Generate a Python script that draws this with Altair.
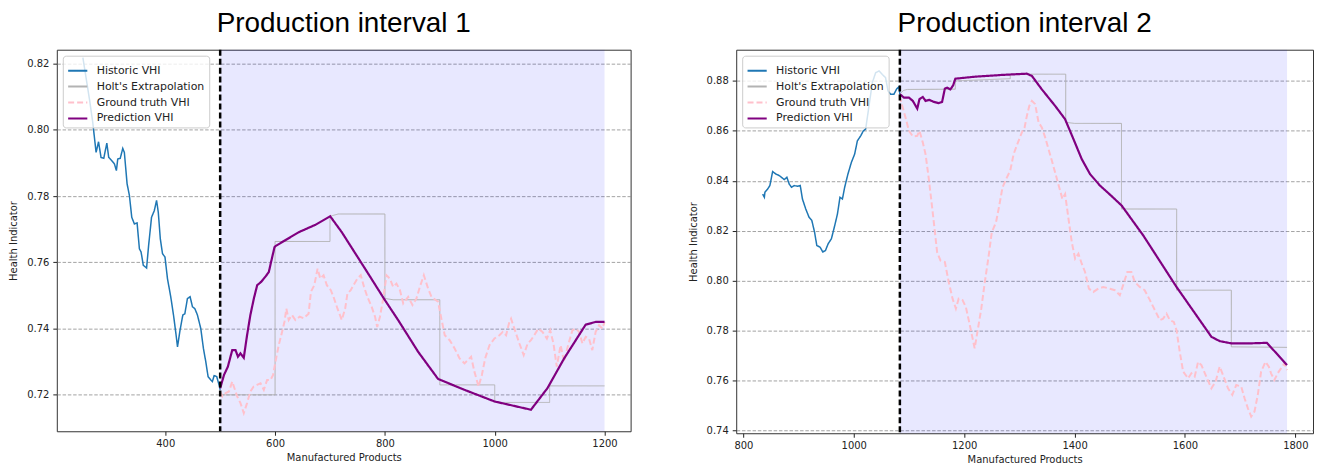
import altair as alt
import pandas as pd

SERIES = ["Historic VHI", "Holt's Extrapolation", "Ground truth VHI", "Prediction VHI"]
COLORS = ["#1f77b4", "#b3b3b3", "#ffc0cb", "#800080"]
DASHES = [[1, 0], [1, 0], [6, 3], [1, 0]]
WIDTHS = [1.5, 1.0, 2.0, 2.2]
TITLES = ["Production interval 1", "Production interval 2"]

# ---------------- Production interval 1 ----------------
L_hist_x = [250, 262, 268, 274, 278.5, 283, 288, 293.6, 297, 302.6, 307.5, 311, 313.5, 318, 322.6,
            325.5, 330.5, 334.7, 339, 343.8, 348.7, 352.9, 356, 360, 366, 369.7, 375, 380, 384.2, 387.3,
            391, 395, 399.5, 404, 410, 415, 419.4, 422.3, 427, 432, 435.7, 440.4, 445.3, 449.5, 453.9,
            458.6, 464.7, 469.5, 473.8, 478, 482.9, 485.8, 489, 493.7, 498, 500]
L_hist_y = [0.8218, 0.8092, 0.8022, 0.7932, 0.7964, 0.7917, 0.7914, 0.7960, 0.7917, 0.7907, 0.7897,
            0.7877, 0.7912, 0.7914, 0.7944, 0.7932, 0.7837, 0.7802, 0.7736, 0.7716, 0.7719, 0.7641,
            0.7631, 0.7591, 0.7583, 0.7651, 0.7736, 0.7756, 0.7787, 0.7751, 0.7671, 0.7626, 0.7616,
            0.7551, 0.7496, 0.7441, 0.7385, 0.7345, 0.7396, 0.7441, 0.7445, 0.7491, 0.7496, 0.7466,
            0.7460, 0.7441, 0.7400, 0.7340, 0.7300, 0.7255, 0.7245, 0.7240, 0.7258, 0.7255, 0.7230, 0.7215]

L_holt_x = [500, 600, 600, 700, 700, 715, 800, 800, 815, 900, 900, 1000, 1000, 1100, 1100, 1200]
L_holt_y = [0.7200, 0.7200, 0.7663, 0.7663, 0.7739, 0.7746, 0.7746, 0.7491, 0.7487, 0.7487,
            0.7230, 0.7230, 0.7177, 0.7177, 0.7227, 0.7227]

L_gt_x = [500, 504, 510, 516, 522, 526, 531, 537, 543, 549, 555, 561, 567, 573.5, 579.5, 585.5, 591.6,
          596.4, 600.7, 606.7, 612.7, 617, 620.6, 624.8, 630.8, 637, 644.8, 652, 661, 665.3, 671.4,
          677.4, 682.3, 688.3, 694.3, 701.5, 706.4, 713.7, 721.5, 727.6, 731.8, 737.8, 742.7, 750, 756,
          762, 768, 775.8, 782, 786, 791, 797, 803, 809, 815, 821, 827.4, 833.4, 842.4, 850.2, 857.5,
          863.7, 870.9, 878.7, 884.8, 896.8, 902.8, 909, 918, 927, 936, 945, 951, 957, 963, 970.6,
          976.6, 982.6, 990.5, 999.6, 1008.6, 1014.7, 1020.7, 1026.7, 1029.7, 1038.8, 1045, 1052.8,
          1060, 1066, 1072, 1079.3, 1087, 1095, 1101, 1107, 1113, 1120, 1126.5, 1133.6, 1141.6,
          1147.6, 1153.6, 1159.7, 1165.7, 1171.7, 1177.7, 1183.8, 1190, 1196, 1200]
L_gt_y = [0.7210, 0.7195, 0.7205, 0.7210, 0.7240, 0.7220, 0.7195, 0.7175, 0.7145, 0.7175,
          0.7210, 0.7225, 0.7230, 0.7235, 0.7215, 0.7245, 0.7245, 0.7260, 0.7300, 0.7350,
          0.7390, 0.7420, 0.7460, 0.7426, 0.7441, 0.7426, 0.7436, 0.7431, 0.7445, 0.7511,
          0.7531, 0.7581, 0.7551, 0.7561, 0.7531, 0.7516, 0.7496, 0.7460, 0.7426, 0.7460,
          0.7506, 0.7516, 0.7531, 0.7551, 0.7561, 0.7526, 0.7496, 0.7466, 0.7436, 0.7405,
          0.7436, 0.7491, 0.7561, 0.7551, 0.7526, 0.7536, 0.7516, 0.7476, 0.7496, 0.7471,
          0.7491, 0.7526, 0.7561, 0.7521, 0.7496, 0.7481, 0.7430, 0.7380, 0.7365, 0.7340,
          0.7310, 0.7295, 0.7305, 0.7315, 0.7270, 0.7225, 0.7260, 0.7310, 0.7350, 0.7370,
          0.7380, 0.7390, 0.7380, 0.7420, 0.7430, 0.7385, 0.7355, 0.7320, 0.7355, 0.7365,
          0.7380, 0.7400, 0.7390, 0.7370, 0.7395, 0.7355, 0.7285, 0.7350, 0.7300, 0.7350,
          0.7395, 0.7400, 0.7390, 0.7355, 0.7375, 0.7370, 0.7335, 0.7390, 0.7410, 0.7400, 0.7420]

L_pred_x = [500, 507, 514, 522, 528, 532.4, 537, 543, 549, 555, 561.4, 567.4, 574.6, 579.5, 584.4,
            588.6, 592.7, 599, 600.7, 643, 673, 700.4, 721.5, 763.8, 800, 824, 860.5, 896.8, 945,
            999.6, 1066, 1096, 1126.5, 1165.7, 1183.9, 1200]
L_pred_y = [0.7220, 0.7260, 0.7285, 0.7335, 0.7335, 0.7315, 0.7325, 0.7312, 0.7380, 0.7441,
            0.7491, 0.7531, 0.7541, 0.7551, 0.7561, 0.7571, 0.7601, 0.7646, 0.7649, 0.7691,
            0.7713, 0.7739, 0.7691, 0.7581, 0.7486, 0.7426, 0.7330, 0.7248, 0.7215, 0.7180,
            0.7155, 0.7220, 0.7310, 0.7412, 0.7420, 0.7420]

L_shade = [500, 1200]
L_split = [500]
L_xdomain = [202.5, 1247.5]
L_ydomain = [0.709, 0.8242]
L_xticks = [400, 600, 800, 1000, 1200]
L_yticks = [0.72, 0.74, 0.76, 0.78, 0.80, 0.82]

# ---------------- Production interval 2 ----------------
R_hist_x = [834.9, 838, 839, 844, 848, 853, 858.9, 865, 869, 874, 878.8, 883, 887.3, 892, 898, 903,
            907, 913, 919, 924, 929, 933, 939, 943.9, 948.7, 953.6, 959.5, 965.5, 970.4, 975, 979.4,
            983.5, 989.4, 995.7, 1001.6, 1006.5, 1012.5, 1017.3, 1021.5, 1027.6, 1033.6, 1039.6,
            1045.7, 1051.7, 1057.6, 1062, 1066.7, 1072.8, 1077.5, 1081.8, 1083.5]
R_hist_y = [0.8347, 0.8334, 0.8354, 0.8367, 0.8381, 0.8437, 0.8427, 0.8421, 0.8414, 0.8405,
            0.8414, 0.8387, 0.8374, 0.8381, 0.8378, 0.8381, 0.8327, 0.8287, 0.8254, 0.8241,
            0.8194, 0.8141, 0.8134, 0.8115, 0.8121, 0.8148, 0.8168, 0.8221, 0.8267, 0.8334,
            0.8327, 0.8374, 0.8427, 0.8474, 0.8507, 0.8560, 0.8580, 0.8600, 0.8607, 0.8700,
            0.8793, 0.8833, 0.8840, 0.8826, 0.8813, 0.8760, 0.8747, 0.8747, 0.8767, 0.8777, 0.8747]

R_holt_x = [1083.5, 1090, 1097, 1184, 1184, 1283.5, 1283.5, 1384, 1384, 1400, 1485, 1485, 1585,
            1585, 1684, 1684, 1785]
R_holt_y = [0.8747, 0.8762, 0.8766, 0.8767, 0.8800, 0.8809, 0.8827, 0.8827, 0.8634, 0.8630,
            0.8630, 0.8287, 0.8287, 0.7962, 0.7962, 0.7735, 0.7733]

R_gt_x = [1083, 1087.8, 1093.8, 1100, 1107, 1115, 1119, 1125, 1130, 1136, 1143, 1151, 1157, 1165,
          1172, 1179, 1185, 1190, 1197, 1203, 1209, 1214, 1219, 1225, 1231, 1237, 1244.5, 1250,
          1257.7, 1263.6, 1269.5, 1277.5, 1283.5, 1289.6, 1297.5, 1304.6, 1309.5, 1313.6, 1318,
          1322.7, 1328.6, 1334.8, 1340.7, 1346.7, 1352.8, 1358.8, 1364.7, 1373.8, 1378, 1382.9,
          1389, 1395, 1401, 1407, 1413, 1419, 1426, 1434, 1443, 1452, 1464, 1473, 1482, 1488,
          1495.6, 1503, 1509, 1518, 1527, 1536.5, 1545.5, 1554.5, 1560.5, 1566.6, 1572.6, 1579.8,
          1584.7, 1590.6, 1596.7, 1605.7, 1611.7, 1617.7, 1623.8, 1629.8, 1637.5, 1647.9, 1655.6,
          1662.9, 1669, 1678, 1685.8, 1693, 1702, 1708, 1714, 1720, 1726, 1732, 1738, 1746, 1752,
          1756, 1762, 1768, 1774, 1780, 1785]
R_gt_y = [0.8740, 0.8700, 0.8653, 0.8600, 0.8578, 0.8580, 0.8600, 0.8554, 0.8507, 0.8407,
          0.8274, 0.8114, 0.8081, 0.8075, 0.7995, 0.7928, 0.7888, 0.7928, 0.7922, 0.7895,
          0.7835, 0.7782, 0.7729, 0.7808, 0.7888, 0.7988, 0.8101, 0.8194, 0.8234, 0.8301,
          0.8374, 0.8414, 0.8441, 0.8507, 0.8554, 0.8594, 0.8614, 0.8660, 0.8700, 0.8720,
          0.8707, 0.8634, 0.8614, 0.8574, 0.8527, 0.8481, 0.8434, 0.8361, 0.8327, 0.8347,
          0.8248, 0.8154, 0.8088, 0.8108, 0.8068, 0.8035, 0.7968, 0.7955, 0.7968, 0.7975,
          0.7968, 0.7962, 0.7942, 0.7982, 0.8035, 0.8035, 0.7995, 0.7975, 0.7962, 0.7922,
          0.7882, 0.7842, 0.7848, 0.7868, 0.7842, 0.7835, 0.7802, 0.7715, 0.7636, 0.7609,
          0.7629, 0.7616, 0.7675, 0.7662, 0.7622, 0.7569, 0.7596, 0.7656, 0.7622, 0.7569,
          0.7543, 0.7582, 0.7576, 0.7529, 0.7489, 0.7456, 0.7476, 0.7543, 0.7636, 0.7675,
          0.7656, 0.7629, 0.7602, 0.7629, 0.7649, 0.7669, 0.7642]

R_pred_x = [1083.5, 1091, 1100, 1107, 1115, 1119, 1125, 1130, 1137, 1145, 1154, 1160, 1165, 1169,
            1175, 1180, 1184, 1220, 1268.5, 1313.6, 1322.7, 1340.8, 1364.8, 1382.8, 1398, 1413,
            1428, 1446, 1466, 1485.3, 1524.5, 1584.7, 1648, 1663, 1684, 1717, 1748.5, 1785]
R_pred_y = [0.8747, 0.8733, 0.8733, 0.8720, 0.8689, 0.8727, 0.8736, 0.8720, 0.8724, 0.8716,
            0.8711, 0.8716, 0.8769, 0.8773, 0.8766, 0.8782, 0.8809, 0.8817, 0.8824, 0.8829,
            0.8820, 0.8766, 0.8700, 0.8647, 0.8567, 0.8487, 0.8427, 0.8381, 0.8341, 0.8301,
            0.8181, 0.7975, 0.7775, 0.7758, 0.7749, 0.7749, 0.7751, 0.7662]

R_shade = [1083.5, 1785]
R_split = [1083.5]
R_xdomain = [787, 1832]
R_ydomain = [0.7389, 0.8925]
R_xticks = [800, 1000, 1200, 1400, 1600, 1800]
R_yticks = [0.74, 0.76, 0.78, 0.80, 0.82, 0.84, 0.86, 0.88]


def panel(title, series_xy, shade, split, xdom, ydom, xticks, yticks, w, h, leg_offset):
    def xenc(field):
        return alt.X(field, scale=alt.Scale(domain=xdom, nice=False, zero=False),
                     axis=alt.Axis(values=xticks, format="d", title="Manufactured Products", grid=False))

    def yenc(field):
        return alt.Y(field, scale=alt.Scale(domain=ydom, nice=False, zero=False),
                     axis=alt.Axis(values=yticks, format=".2f", title="Health Indicator", grid=True,
                                   gridDash=[3.5, 1.8], gridColor="#8c8c8c", gridWidth=0.8))

    legend = alt.Legend(title=None, orient="top-left", offset=leg_offset)
    color = alt.Color("series:N", scale=alt.Scale(domain=SERIES, range=COLORS), legend=legend)
    dash = alt.StrokeDash("series:N", scale=alt.Scale(domain=SERIES, range=DASHES), legend=legend)

    shade_df = pd.DataFrame({"start": [shade[0]], "end": [shade[1]]})
    layers = [alt.Chart(shade_df).mark_rect(color="blue", opacity=0.09).encode(
        x=xenc("start:Q"), x2="end:Q")]

    for name, width, (xs, ys) in zip(SERIES, WIDTHS, series_xy):
        df = pd.DataFrame({"x": xs, "y": ys})
        df["series"] = name
        df["idx"] = range(len(df))
        layers.append(alt.Chart(df).mark_line(strokeWidth=width).encode(
            x=xenc("x:Q"), y=yenc("y:Q"), color=color, strokeDash=dash,
            order=alt.Order("idx:Q")))

    split_df = pd.DataFrame({"x": split})
    layers.append(alt.Chart(split_df).mark_rule(color="black", strokeWidth=2.5, strokeDash=[6, 3]).encode(
        x=xenc("x:Q")))

    return alt.layer(*layers).properties(
        width=w, height=h,
        title=alt.TitleParams(title, font="Liberation Sans", fontSize=28, fontWeight="normal",
                              anchor="middle", offset=11, color="black"))


left = panel(TITLES[0],
             [(L_hist_x, L_hist_y), (L_holt_x, L_holt_y), (L_gt_x, L_gt_y), (L_pred_x, L_pred_y)],
             L_shade, L_split, L_xdomain, L_ydomain, L_xticks, L_yticks, 576, 383, 6)
right = panel(TITLES[1],
              [(R_hist_x, R_hist_y), (R_holt_x, R_holt_y), (R_gt_x, R_gt_y), (R_pred_x, R_pred_y)],
              R_shade, R_split, R_xdomain, R_ydomain, R_xticks, R_yticks, 579, 385, 6)

chart = alt.hconcat(left, right, spacing=56).resolve_scale(
    x="independent", y="independent", color="independent", strokeDash="independent"
).resolve_legend(color="independent", strokeDash="independent").properties(
    padding={"left": 0, "top": 0, "right": 0, "bottom": 0}, background="white"
).configure_view(stroke="#333333", strokeWidth=1).configure_axis(
    labelFont="DejaVu Sans", labelFontSize=10, labelColor="#222222",
    titleFont="DejaVu Sans", titleFontSize=10, titleFontWeight="normal", titleColor="#222222",
    tickColor="#222222", tickSize=4, domain=False
).configure_axisX(labelPadding=3, titlePadding=4).configure_axisY(
    labelPadding=4, titlePadding=8
).configure_legend(
    fillColor="rgba(255,255,255,0.8)", strokeColor="#cccccc", cornerRadius=3, padding=4,
    symbolType="stroke", symbolSize=370, symbolStrokeWidth=2, labelFont="DejaVu Sans",
    labelFontSize=11, labelColor="#222222", rowPadding=0, labelOffset=8
)

chart.save("out.html", embed_options={"renderer": "svg", "actions": False})
